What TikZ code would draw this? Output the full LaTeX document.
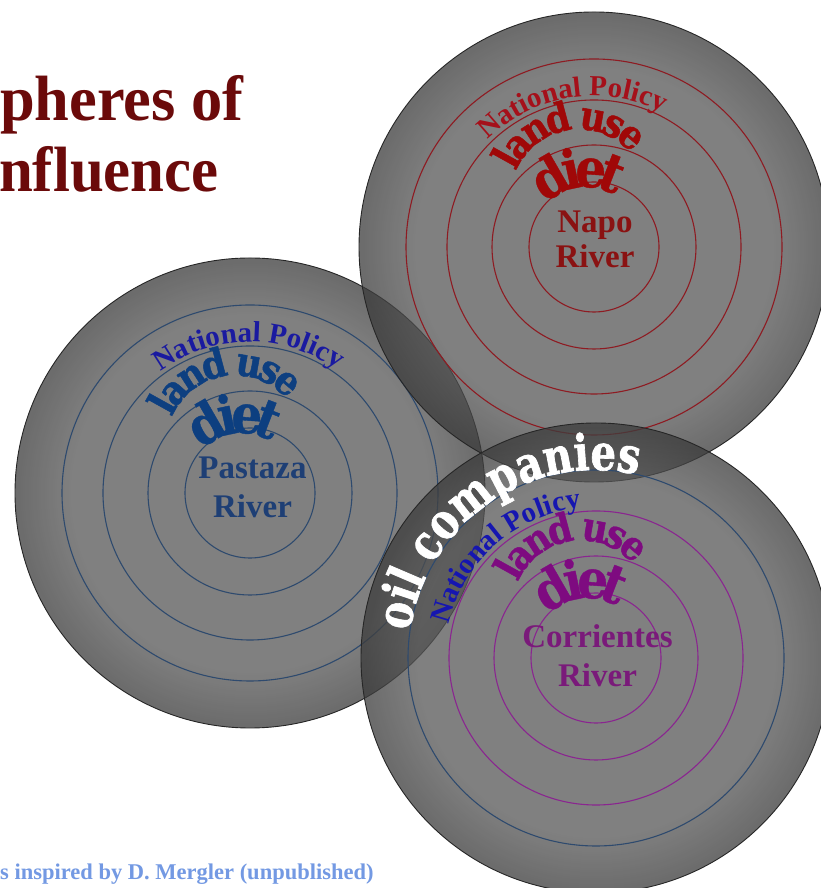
\documentclass[tikz,border=0pt]{standalone}
\usepackage{fontspec}
\setmainfont{Liberation Serif}
\newfontfamily\heavy{DejaVu Serif}[FakeStretch=0.88, BoldFeatures={FakeBold=1.2}]
\newfontfamily\dietfont{DejaVu Serif}[FakeStretch=0.9, BoldFeatures={FakeBold=0.7}]
\newfontfamily\oilfont{DejaVu Serif}[FakeStretch=0.8, BoldFeatures={FakeBold=1.3}]
\usetikzlibrary{decorations.text,calc}
\definecolor{discin}{gray}{0.337}
\definecolor{discout}{gray}{0.236}
\pgfdeclareradialshading{discshade}{\pgfpoint{0bp}{0bp}}{color(0bp)=(discin); color(19bp)=(discin); color(24.5bp)=(discout); color(50bp)=(discout)}
\definecolor{ringP}{HTML}{2E4A6E}
\definecolor{ringN}{HTML}{8E1B22}
\definecolor{ringC}{HTML}{8A2590}
\definecolor{npP}{HTML}{1A1AA0}
\definecolor{luP}{HTML}{0D3F80}
\definecolor{rvP}{HTML}{1E3F75}
\definecolor{npN}{HTML}{A5101A}
\definecolor{luN}{HTML}{A00808}
\definecolor{rvN}{HTML}{8A1212}
\definecolor{npC}{HTML}{1616B0}
\definecolor{luC}{HTML}{7E0B80}
\definecolor{rvC}{HTML}{7A1A7A}
\definecolor{titlered}{HTML}{6B0A0A}
\definecolor{creditblue}{HTML}{7399E3}
\newcommand\ludiet[3]{%
  \foreach \ch/\a [count=\i] in {l/151,a/139,n/122.6,d/105,u/80,s/64.5,e/50}
    \node[luword, rotate=\a-90, text=#2] (#3lu\i) at ($(#1)+(-15,48.5)+(\a:69pt)$) {\ch};
  \foreach \ch/\a [count=\i] in {d/120,i/102,e/86,t/69}
    \node[dtword, rotate=\a-90, text=#2] (#3dt\i) at ($(#1)+(-8,6)+(\a:54pt)$) {\ch};
}
\newcommand\natpol[3]{%
  \path[decorate, decoration={text along path, text align=center,
    text={|\bfseries\fontsize{29}{31}\selectfont\color{#2}|National Policy}}]
    (#1) ++(#3+80:151pt) arc[start angle=#3+80, end angle=#3-80, radius=151pt];
}
\newcommand\discwithrings[3]{%
  \shade[shading=discshade, opacity=0.75] (#1) circle[radius=235pt];
  \draw[outline] (#1) circle[radius=235pt];
  \draw[ringline, draw=#2] (#1) circle[radius=188pt];
  \foreach \r in {147,102,65} \draw[ringline, draw=#3] (#1) circle[radius=\r pt];
}
\begin{document}
\begin{tikzpicture}[x=1pt,y=1pt,
  outline/.style={draw=black!85, line width=0.9pt},
  ringline/.style={line width=1.1pt},
  luword/.style={anchor=base, inner sep=0pt, font=\heavy\bfseries\fontsize{40}{42}\selectfont},
  dtword/.style={anchor=base, inner sep=0pt, font=\dietfont\bfseries\fontsize{54}{56}\selectfont},
  river/.style={anchor=base, inner sep=0pt, font=\bfseries\fontsize{33}{36}\selectfont},
  titletext/.style={anchor=base west, inner sep=0pt, font=\bfseries\fontsize{64}{70}\selectfont, text=titlered}]
\useasboundingbox (0,0) rectangle (821,888);
\fill[white] (0,0) rectangle (821,888);
\coordinate (P) at (250,395);
\coordinate (N) at (594,641);
\coordinate (C) at (596,230);
% discs
\discwithrings{P}{ringP}{ringP}
\discwithrings{N}{ringN}{ringN}
\discwithrings{C}{ringP}{ringC}
% texts
\natpol{P}{npP}{90.5}
\natpol{N}{npN}{99}
\natpol{C}{npC}{131.5}
\ludiet{P}{luP}{p}
\ludiet{N}{luN}{n}
\ludiet{C}{luC}{c}
\node[river, text=rvP] (pr1) at ($(P)+(2.5,14)$) {Pastaza};
\node[river, text=rvP] (pr2) at ($(P)+(2.5,-25)$) {River};
\node[river, text=rvN] (nr1) at ($(N)+(1,14)$) {Napo};
\node[river, text=rvN] (nr2) at ($(N)+(1,-21)$) {River};
\node[river, text=rvC] (cr1) at ($(C)+(1.5,10)$) {Corrientes};
\node[river, text=rvC] (cr2) at ($(C)+(1.5,-29)$) {River};
\path[decorate, decoration={text along path, text align=center,
  text={|\oilfont\bfseries\fontsize{50}{52}\selectfont\color{white}|oil companies}}]
  (C) ++(209.5:188pt) arc[start angle=209.5, end angle=39.5, radius=188pt];
% title and credit
\node[titletext, xscale=0.975] (t1) at (0,767) {pheres of};
\node[titletext, xscale=0.95] (t2) at (-1,696) {nfluence};
\node[anchor=base west, inner sep=0pt, font=\bfseries\fontsize{22.5}{24}\selectfont, text=creditblue] (credit) at (0,9) {s inspired by D. Mergler (unpublished)};
\end{tikzpicture}
\end{document}
